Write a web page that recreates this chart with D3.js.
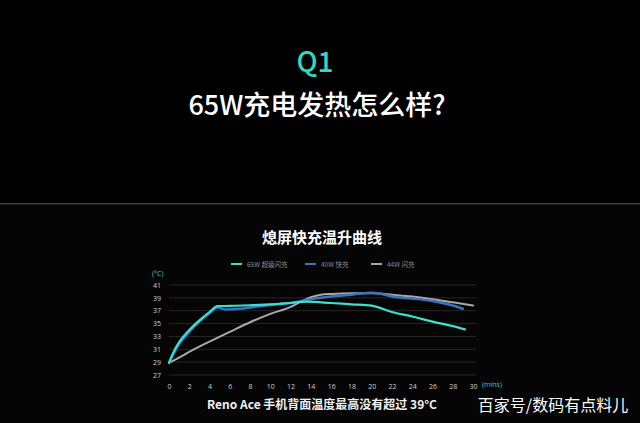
<!DOCTYPE html>
<html><head><meta charset="utf-8">
<script src="https://cdn.jsdelivr.net/npm/d3@7"></script>
<style>html,body{margin:0;padding:0;background:#000;}svg{display:block;}</style>
</head><body>
<svg id="c" width="640" height="423"></svg>
<script>
// ---- data ----
const xTicks = [0,2,4,6,8,10,12,14,16,18,20,22,24,26,28,30];
const yTicks = [27,29,31,33,35,37,39,41];
const seriesNames = ["65W 超级闪充","40W 快充","44W 闪充"];
const seriesColors = ["#3ee0cc","#3b74bf","#a9a9a9"];
const t65 = [0,0.4,1,2,3,4,4.8,6,8,10,12,13.5,16,18,20,22,24,26,28,29.2];
const v65 = [28.9,30.4,32.1,34.0,35.5,36.8,37.7,37.75,37.85,38.0,38.2,38.4,38.2,38.0,37.8,36.8,36.1,35.3,34.6,34.1];
const t40 = [0,1,2,3,4,4.8,5.5,7,8,10,12,14,16,18,20,21,22,24,26,28,29];
const v40 = [28.9,31.8,33.7,35.3,36.6,37.5,37.2,37.3,37.5,37.9,38.2,38.8,39.2,39.5,39.8,39.6,39.2,38.9,38.5,37.8,37.3];
const t44 = [0,1,2,4,6,8,10,12,13,14,15,16,18,20,22,24,26,28,30];
const v44 = [28.9,29.7,30.6,32.2,33.7,35.2,36.5,37.6,38.4,39.1,39.5,39.6,39.7,39.7,39.5,39.2,38.8,38.3,37.8];

const svg = d3.select("#c");
const CJK = "'Noto Sans CJK SC','Noto Sans',sans-serif";
svg.append("rect").attr("width",640).attr("height",423).attr("fill","#000");
svg.append("rect").attr("y",204).attr("width",640).attr("height",219).attr("fill","#050505");
svg.append("line").attr("x1",0).attr("x2",640).attr("y1",203.5).attr("y2",203.5).attr("stroke","#444");
svg.append("line").attr("x1",0).attr("x2",640).attr("y1",204.5).attr("y2",204.5).attr("stroke","#1c1c1c");

svg.append("text").attr("x",315).attr("y",72).attr("text-anchor","middle")
  .attr("font-family",CJK).attr("font-size",28).attr("font-weight",500).attr("fill","#33d6bf").text("Q1");
svg.append("text").attr("x",317).attr("y",115).attr("text-anchor","middle")
  .attr("font-family",CJK).attr("font-size",27).attr("font-weight",500).attr("fill","#fff").text("65W充电发热怎么样?");

svg.append("text").attr("x",322).attr("y",243).attr("text-anchor","middle")
  .attr("font-family",CJK).attr("font-size",15).attr("font-weight","bold").attr("fill","#fff").text("熄屏快充温升曲线");

// scales
const x = d3.scaleLinear().domain([0,30]).range([169,473]);
const y = d3.scaleLinear().domain([27,41]).range([375,285]);

// grid
svg.append("g").selectAll("line").data(yTicks).join("line")
  .attr("x1",x(0)).attr("x2",x(30)+3).attr("y1",d=>y(d)).attr("y2",d=>y(d))
  .attr("stroke","#262626").attr("stroke-width",1);

// axes
const yAxis = d3.axisLeft(y).tickValues(yTicks).tickSize(0).tickPadding(8);
const gy = svg.append("g").attr("transform","translate(169,0)").call(yAxis);
const xAxis = d3.axisBottom(x).tickValues(xTicks).tickSize(0).tickPadding(6);
const gx = svg.append("g").attr("transform","translate(0,378)").call(xAxis);
[gy,gx].forEach(g=>{
  g.select(".domain").remove();
  g.selectAll("text").attr("fill","#cfcfcf").attr("font-size",7).attr("font-family","'Open Sans',sans-serif");
});
svg.append("text").attr("x",152).attr("y",276).attr("font-size",7).attr("fill","#3cc8b6")
  .attr("font-family","'Open Sans',sans-serif").text("(°C)");
svg.append("text").attr("x",482).attr("y",387).attr("font-size",7).attr("fill","#3cc8b6")
  .attr("font-family","'Open Sans',sans-serif").text("(mins)");

// lines
const line = d3.line().x(d=>x(d[0])).y(d=>y(d[1])).curve(d3.curveMonotoneX);
const series = [
  {t:t44,v:v44,c:seriesColors[2],w:2},
  {t:t40,v:v40,c:seriesColors[1],w:2.5},
  {t:t65,v:v65,c:seriesColors[0],w:2.2}
];
series.forEach(s=>{
  svg.append("path").datum(s.t.map((t,i)=>[t,s.v[i]]))
    .attr("d",line).attr("fill","none").attr("stroke",s.c).attr("stroke-width",s.w)
    .attr("stroke-linejoin","round").attr("stroke-linecap","round");
});

// legend
const legX = [231,305,371];
seriesNames.forEach((n,i)=>{
  svg.append("line").attr("x1",legX[i]).attr("x2",legX[i]+11).attr("y1",264).attr("y2",264)
    .attr("stroke",seriesColors[i]).attr("stroke-width",2);
  svg.append("text").attr("x",legX[i]+16).attr("y",266.5).attr("font-size",6.5)
    .attr("font-family",CJK).attr("fill","#8a8a8a").text(n);
});

svg.append("text").attr("x",322).attr("y",409).attr("text-anchor","middle")
  .attr("font-family",CJK).attr("font-size",12).attr("font-weight","bold").attr("fill","#f0f0f0")
  .text("Reno Ace 手机背面温度最高没有超过 39°C");
svg.append("text").attr("x",553).attr("y",411).attr("text-anchor","middle")
  .attr("font-family",CJK).attr("font-size",16).attr("fill","#fff").text("百家号/数码有点料儿");
</script>
</body></html>
